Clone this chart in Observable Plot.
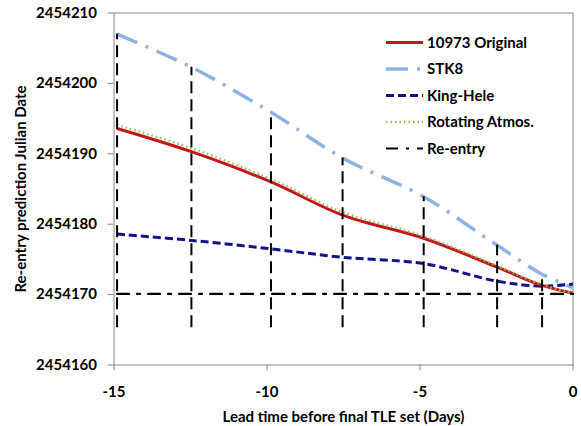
<!DOCTYPE html>
<html>
<head>
<meta charset="utf-8">
<script src="https://cdn.jsdelivr.net/npm/d3@7"></script>
<script src="https://cdn.jsdelivr.net/npm/@observablehq/plot@0.6"></script>
<style>
  html, body { margin: 0; padding: 0; background: #fff; }
  #wrap { position: relative; width: 581px; height: 426px; }
  #legend { position: absolute; left: 0; top: 0; pointer-events: none; }
</style>
</head>
<body>
<div id="wrap"></div>
<script>
// Lead time (days) of each TLE set
const leadDays = [-14.9, -12.47, -9.87, -7.53, -4.88, -2.48, -1.01, 0];
const original = [2454193.6, 2454190.3, 2454186.0, 2454181.3, 2454178.0, 2454173.9, 2454171.3, 2454170.2];
const stk8 = [2454207.0, 2454202.3, 2454195.9, 2454189.4, 2454183.9, 2454177.0, 2454172.9, 2454171.0];
const kingHele = [2454178.6, 2454177.7, 2454176.5, 2454175.3, 2454174.4, 2454171.9, 2454171.2, 2454171.5];
const rotating = [2454194.1, 2454190.8, 2454186.4, 2454181.7, 2454178.3, 2454174.1, 2454171.4, 2454170.2];
const reentryDate = 2454170.1;
const barLow = 2454165.3;          // lower end of the vertical bars
const barDays = leadDays.slice(0, 7);
const barHigh = stk8.slice(0, 7);  // bars reach up to the STK8 prediction

const xTicks = [-15, -10, -5, 0];
const yTicks = [2454160, 2454170, 2454180, 2454190, 2454200, 2454210];

const seriesNames = ["10973 Original", "STK8", "King-Hele", "Rotating Atmos.", "Re-entry"];
const seriesStyle = {
  "10973 Original": {stroke: "#C0161C", width: 3, dash: null},
  "STK8": {stroke: "#8DB3E2", width: 3.5, dash: "22,9,3,9"},
  "King-Hele": {stroke: "#131389", width: 3, dash: "8,4"},
  "Rotating Atmos.": {stroke: "#9BBB59", width: 2.5, dash: "1.5,3"},
  "Re-entry": {stroke: "#000", width: 2.2, dash: "12,8,3,8"}
};

const toRows = (vals) => leadDays.map((d, i) => ({d, v: vals[i]}));
const rowsOriginal = toRows(original);
const rowsStk8 = toRows(stk8);
const rowsKing = toRows(kingHele);
const rowsRot = toRows(rotating);
const rowsReentry = [{d: leadDays[0], v: reentryDate}, {d: 0, v: reentryDate}];
const rowsBars = barDays.map((d, i) => ({d, lo: barLow, hi: barHigh[i]}));

const lineMark = (rows, name) => Plot.line(rows, {
  x: "d", y: "v", curve: "catmull-rom",
  stroke: seriesStyle[name].stroke,
  strokeWidth: seriesStyle[name].width,
  strokeDasharray: seriesStyle[name].dash,
  strokeLinecap: "butt"
});

const W = 581, H = 426;
const mL = 113.5, mR = 8.5, mT = 12.5, mB = 61.5;
const FONT = "Lato, 'Open Sans', sans-serif";

const chart = Plot.plot({
  width: W, height: H,
  marginLeft: mL, marginRight: mR, marginTop: mT, marginBottom: mB,
  style: {fontFamily: FONT, fontSize: "15px", fontWeight: 700, color: "#000", background: "#fff"},
  x: {domain: [-15, 0]},
  y: {domain: [2454160, 2454210]},
  marks: [
    Plot.frame({stroke: "#868686", strokeWidth: 1}),
    lineMark(rowsStk8, "STK8"),
    lineMark(rowsKing, "King-Hele"),
    lineMark(rowsOriginal, "10973 Original"),
    lineMark(rowsRot, "Rotating Atmos."),
    Plot.ruleX(rowsBars, {x: "d", y1: "lo", y2: "hi", stroke: "#000", strokeWidth: 2, strokeDasharray: "12,6"}),
    Plot.line(rowsReentry, {x: "d", y: "v", stroke: "#000", strokeWidth: 2.2, strokeDasharray: seriesStyle["Re-entry"].dash}),
    Plot.axisX({ticks: xTicks, tickSize: 6, tickPadding: 15, stroke: "#868686", fill: "#000", label: null, fontSize: 15, tickFormat: d => String(d)}),
    Plot.axisY({ticks: yTicks, tickSize: 6, tickPadding: 11, stroke: "#868686", fill: "#000", label: null, fontSize: 15, tickFormat: d3.format("d")}),
    Plot.text(["Lead time before final TLE set (Days)"], {frameAnchor: "bottom", dy: 52, textAnchor: "middle", lineAnchor: "middle", fontSize: 15, fontWeight: 700, fill: "#000"}),
    Plot.text(["Re-entry prediction Julian Date"], {frameAnchor: "left", dx: -93, rotate: -90, textAnchor: "middle", lineAnchor: "middle", fontSize: 15, fontWeight: 700, fill: "#000"})
  ]
});

const wrap = document.getElementById("wrap");
wrap.appendChild(chart);

// Legend inside the plot area (top right)
const leg = d3.select(wrap).append("svg")
  .attr("id", "legend").attr("width", W).attr("height", H);
const legX0 = 386, legX1 = 423, legTextX = 427, legY0 = 42.5, legStep = 26.5;
seriesNames.forEach((name, i) => {
  const s = seriesStyle[name];
  const y = legY0 + i * legStep;
  leg.append("line")
    .attr("x1", legX0).attr("x2", legX1).attr("y1", y).attr("y2", y)
    .attr("stroke", s.stroke).attr("stroke-width", s.width)
    .attr("stroke-dasharray", s.dash);
  leg.append("text")
    .attr("x", legTextX).attr("y", y).attr("dy", "0.35em")
    .attr("font-family", FONT)
    .attr("font-weight", 700).attr("font-size", 15)
    .text(name);
});
</script>
</body>
</html>
